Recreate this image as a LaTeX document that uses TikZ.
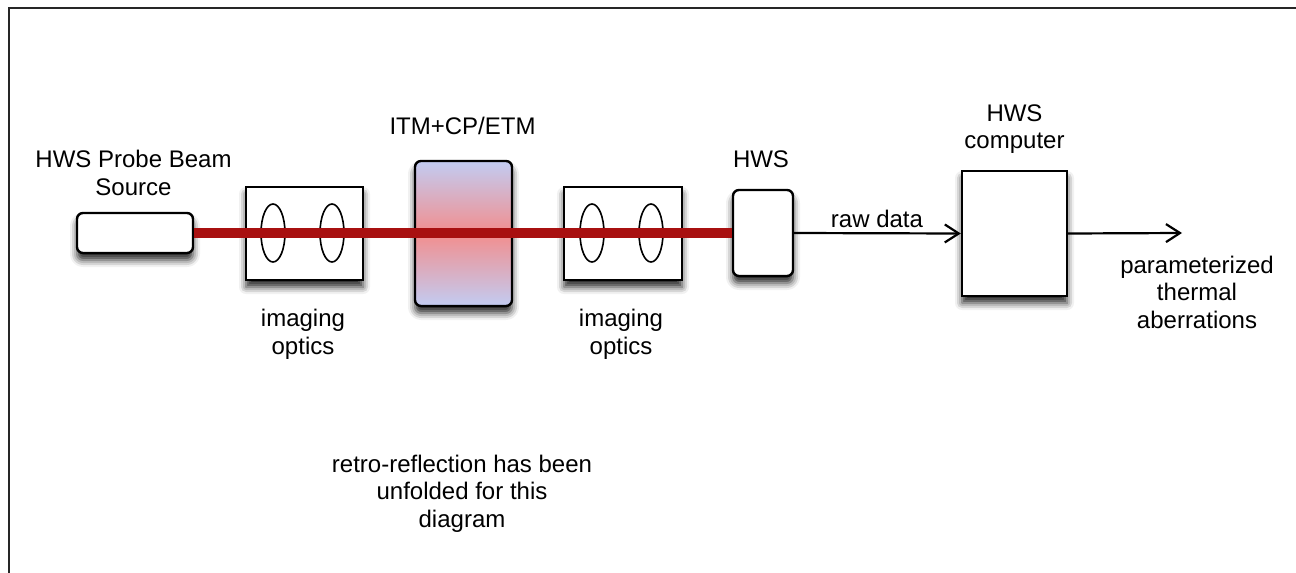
\documentclass[tikz,border=0pt]{standalone}
\usepackage{fontspec}
\setmainfont{Liberation Sans}
\usetikzlibrary{shadows.blur,arrows.meta,shapes.geometric}
\definecolor{beamred}{HTML}{A81010}
\definecolor{itmblue}{HTML}{C2CCF2}
\definecolor{itmred}{HTML}{F28E8E}
\begin{document}
\begin{tikzpicture}[x=1pt,y=-1pt,
  lbl/.style={font=\fontsize{24}{27.5}\selectfont, align=center, inner sep=0pt, anchor=base},
  box/.style={draw=black, line width=2.4pt, fill=white, inner sep=0pt,
    blur shadow={shadow xshift=0pt, shadow yshift=-7pt, shadow blur radius=7pt, shadow opacity=85}},
  rbox/.style={box, rounded corners=6pt},
  lens/.style={draw=black, line width=1.6pt, ellipse, inner sep=0pt, minimum width=24pt, minimum height=58pt},
  beam/.style={draw=beamred, line width=10pt},
  arr/.style={line width=2.2pt, -{Straight Barb[length=14pt,width=18pt,line width=2.2pt]}}
]
\useasboundingbox (0,0) rectangle (1296,573);
\draw[line width=2.4pt, color=black!85] (9,573) -- (9,8) -- (1296,8);

% boxes
\node[rbox, minimum width=116pt, minimum height=40pt] (src) at (135,233) {};
\node[box, minimum width=117pt, minimum height=93pt] (opt1) at (304.5,233.5) {};
\node[rbox, minimum width=97pt, minimum height=145pt, top color=itmblue, bottom color=itmblue, middle color=itmred] (itm) at (463.5,233.5) {};
\node[box, minimum width=118pt, minimum height=93pt] (opt2) at (623,233.5) {};
\node[rbox, minimum width=60pt, minimum height=86pt] (hws) at (763,233) {};
\node[box, minimum width=105pt, minimum height=125pt] (comp) at (1014.5,233.5) {};

% lenses
\node[lens] (l1) at (273,233) {};
\node[lens] (l2) at (332,233) {};
\node[lens] (l3) at (592,233) {};
\node[lens] (l4) at (651,233) {};

% beam
\draw[beam] (src.east) -- (hws.west);

% data arrows
\coordinate (out) at (1182,233);
\draw[arr] (hws.east) -- (comp.west);
\draw[arr] (comp.east) -- (out);

% labels (base anchor = baseline of last line)
\node[lbl] (tsrc) at (133.5,195) {HWS Probe Beam\\Source};
\node[lbl] (titm) at (462.5,134) {ITM+CP/ETM};
\node[lbl] (thws) at (761,167) {HWS};
\node[lbl] (tcomp) at (1014.5,148.5) {HWS\\computer};
\node[lbl] (topt1) at (303,354) {imaging\\optics};
\node[lbl] (topt2) at (621,354) {imaging\\optics};
\node[lbl] (traw) at (877,227) {raw data};
\node[lbl] (tpar) at (1197,328) {parameterized\\thermal\\aberrations};
\node[lbl] (tretro) at (462,527) {retro-reflection has been\\unfolded for this\\diagram};
\end{tikzpicture}
\end{document}
